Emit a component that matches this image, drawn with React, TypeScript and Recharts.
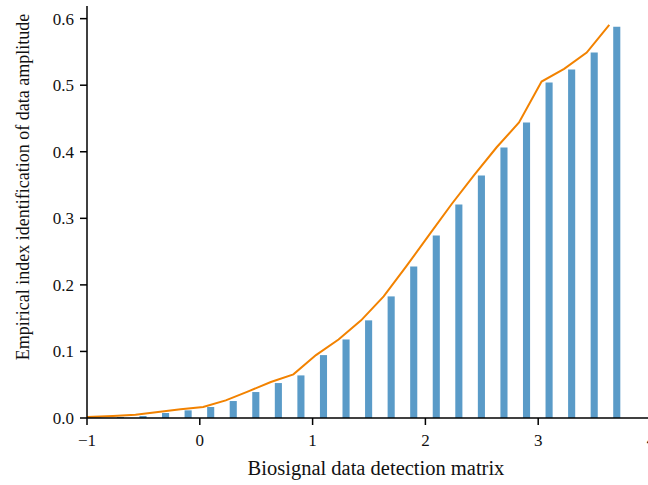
import React from 'react';
import { ComposedChart, Bar, Line, XAxis, YAxis } from 'recharts';

const barX = [-0.9, -0.7, -0.5, -0.3, -0.1, 0.1, 0.3, 0.5, 0.7, 0.9, 1.1, 1.3, 1.5, 1.7, 1.9, 2.1, 2.3, 2.5, 2.7, 2.9, 3.1, 3.3, 3.5, 3.7];
const barValues = [0.0005, 0.0015, 0.003, 0.0075, 0.0115, 0.0165, 0.0255, 0.039, 0.0525, 0.064, 0.0945, 0.118, 0.1467, 0.1827, 0.2277, 0.2743, 0.3208, 0.3644, 0.4064, 0.444, 0.504, 0.5235, 0.549, 0.588];

const lineX = [-1.0, -0.77, -0.57, -0.37, -0.17, 0.03, 0.23, 0.43, 0.63, 0.83, 1.03, 1.23, 1.43, 1.63, 1.83, 2.03, 2.23, 2.43, 2.63, 2.83, 3.03, 3.23, 3.43, 3.63];
const lineValues = [0.0015, 0.003, 0.005, 0.009, 0.013, 0.0165, 0.0265, 0.04, 0.054, 0.0656, 0.0945, 0.118, 0.1467, 0.1827, 0.2277, 0.2743, 0.3208, 0.3644, 0.4064, 0.444, 0.5055, 0.5246, 0.549, 0.5906];

const xTicks = [-1, 0, 1, 2, 3, 4];
const yTicks = [0, 0.1, 0.2, 0.3, 0.4, 0.5, 0.6];

const xTitle = 'Biosignal data detection matrix';
const yTitle = 'Empirical index identification of data amplitude';

const barData = barX.map((x, i) => ({ x, v: barValues[i] }));
const lineData = lineX.map((x, i) => ({ x, y: lineValues[i] }));

const FONT = '"Liberation Serif", "DejaVu Serif", serif';

export default function App() {
  return (
    <div style={{ position: 'absolute', left: 0, top: 0, width: 648, height: 485, overflow: 'hidden', background: '#fff' }}>
      <ComposedChart
        width={660}
        height={485}
        data={barData}
        margin={{ top: 6, right: 9, bottom: 0, left: 0 }}
      >
        <XAxis
          dataKey="x"
          type="number"
          domain={[-1, 4]}
          ticks={xTicks}
          allowDataOverflow
          height={67}
          stroke="#000"
          tickSize={7}
          tickMargin={9}
          tick={{ fill: '#111', fontSize: 17, fontFamily: FONT }}
          tickFormatter={(v: number) => String(v).replace('-', '\u2212')}
          axisLine={{ stroke: '#000', strokeWidth: 1.5 }}
          tickLine={{ stroke: '#000', strokeWidth: 1.5 }}
          label={{
            content: () => (
              <text x={376} y={468} textAnchor="middle" dominantBaseline="central" fontSize={20.5} fontFamily={FONT} fill="#111">
                {xTitle}
              </text>
            ),
          }}
        />
        <XAxis
          xAxisId="top"
          dataKey="x"
          type="number"
          orientation="top"
          domain={[-1, 4]}
          height={0}
          tick={false}
          tickLine={false}
          axisLine={{ stroke: '#666', strokeWidth: 1.5 }}
        />
        <YAxis
          type="number"
          domain={[0, 0.619]}
          ticks={yTicks}
          allowDataOverflow
          width={87}
          tickSize={7}
          tickMargin={6}
          tick={{ fill: '#111', fontSize: 17, fontFamily: FONT }}
          tickFormatter={(v: number) => v.toFixed(1)}
          axisLine={{ stroke: '#000', strokeWidth: 1.5 }}
          tickLine={{ stroke: '#000', strokeWidth: 1.5 }}
          label={{
            content: () => (
              <text x={23} y={187} transform="rotate(-90 23 187)" textAnchor="middle" dominantBaseline="central" fontSize={18} fontFamily={FONT} fill="#111">
                {yTitle}
              </text>
            ),
          }}
        />
        <Bar dataKey="v" fill="#5A9BC8" barSize={8} isAnimationActive={false} />
        <Line
          data={lineData}
          dataKey="y"
          type="linear"
          stroke="#F28200"
          strokeWidth={2}
          dot={false}
          activeDot={false}
          isAnimationActive={false}
        />
      </ComposedChart>
    </div>
  );
}
